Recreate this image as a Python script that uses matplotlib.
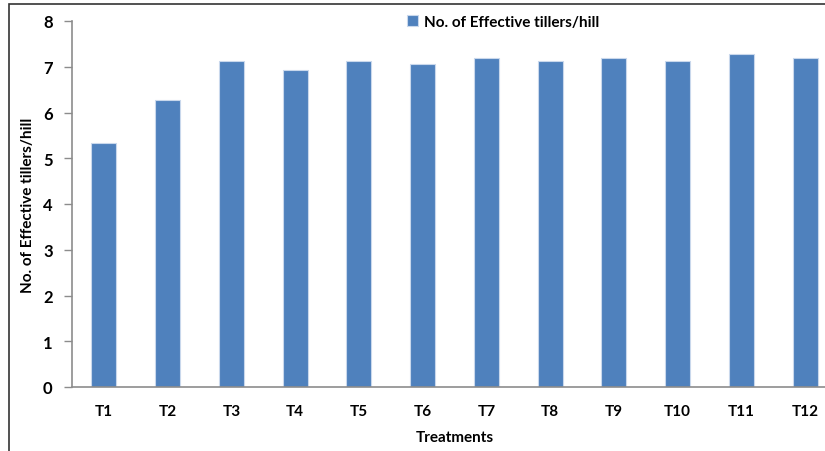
import matplotlib.pyplot as plt
from matplotlib.patches import Rectangle

treatments = ['T1', 'T2', 'T3', 'T4', 'T5', 'T6', 'T7', 'T8', 'T9', 'T10', 'T11', 'T12']
tillers = [5.33, 6.27, 7.13, 6.93, 7.13, 7.07, 7.20, 7.13, 7.20, 7.13, 7.27, 7.20]
yticks = [0, 1, 2, 3, 4, 5, 6, 7, 8]

plt.rcParams['font.family'] = ['Lato', 'DejaVu Sans']
plt.rcParams['font.weight'] = 'bold'

fig = plt.figure(figsize=(8.25, 4.52), dpi=100)
# the chart is cut off on the right, so the axes run past the figure edge
ax = fig.add_axes([72/825, 64/452, 765/825, 366/452])

x = range(len(treatments))
ax.bar(x, tillers, width=0.39, color='#4F81BD', edgecolor='#c9d8ec', linewidth=0.8,
       label='No. of Effective tillers/hill', zorder=2)

ax.set_xlim(-0.5, len(treatments) - 0.5)
ax.set_ylim(0, 8)
ax.set_yticks(yticks)
ax.set_xticks(list(x))
ax.set_xticklabels(treatments)

for s in ['top', 'right']:
    ax.spines[s].set_visible(False)
for s in ['left', 'bottom']:
    ax.spines[s].set_color('#8c8c8c')
    ax.spines[s].set_linewidth(1.2)

ax.tick_params(axis='y', direction='out', length=6, width=1, color='#8c8c8c',
               labelsize=12, pad=8)
ax.tick_params(axis='x', length=0, labelsize=11, pad=12)
for lab in ax.get_xticklabels() + ax.get_yticklabels():
    lab.set_fontweight('bold')

ax.set_xlabel('Treatments', fontsize=11, fontweight='bold', labelpad=9)
ax.set_ylabel('No. of Effective tillers/hill', fontsize=11, fontweight='bold', labelpad=6)

fig.legend(loc='center left', bbox_to_anchor=(407/825, 1 - 23/452), frameon=False,
           fontsize=11, handlelength=0.7, handleheight=0.7, handletextpad=0.4,
           borderaxespad=0, borderpad=0)

# outer frame of the original chart area
fig.patches.append(Rectangle((9/825, -0.05), 1.2, 1 - 4.5/452 + 0.05, transform=fig.transFigure,
                             fill=False, edgecolor='#333333', linewidth=1.2))

fig.savefig('out.png', dpi=100)
